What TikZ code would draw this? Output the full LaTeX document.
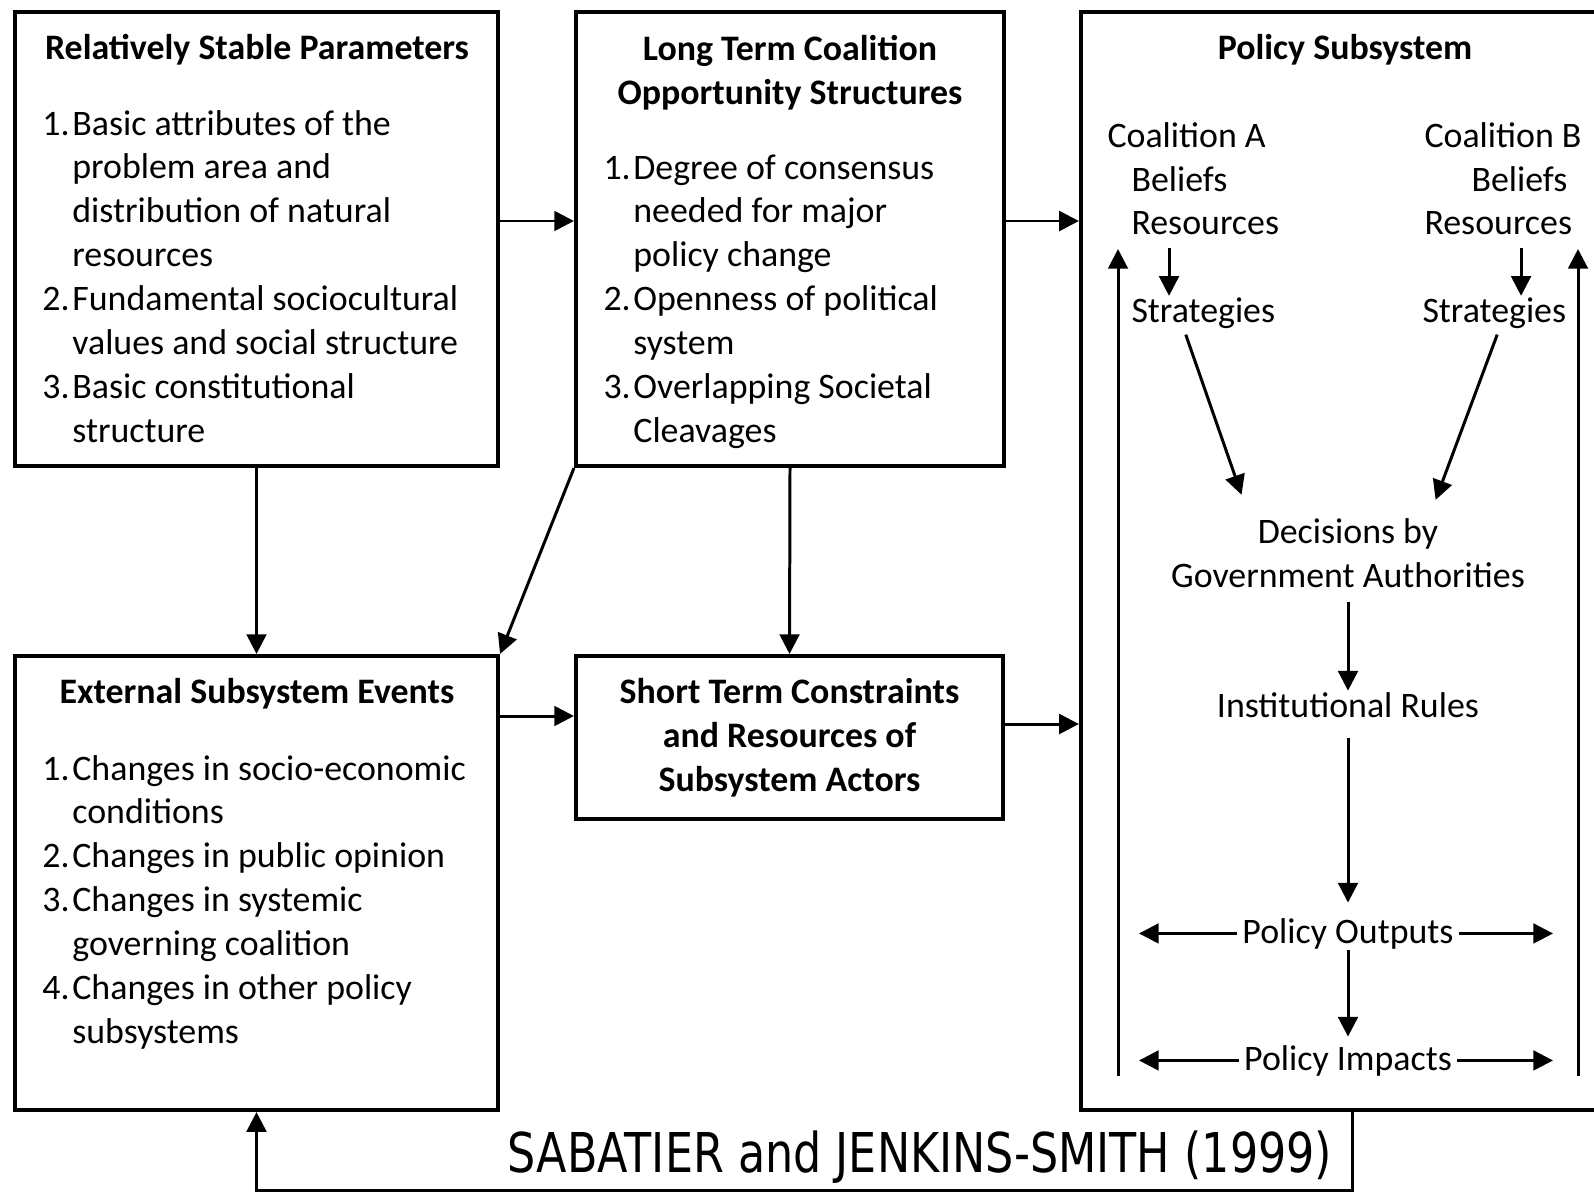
\documentclass[tikz,border=0pt]{standalone}
\usepackage{fontspec}
\setmainfont{Carlito}
\newfontfamily\capfont[FakeStretch=0.81]{DejaVu Sans}
\usetikzlibrary{arrows.meta}
\newcommand{\plist}[1]{\begin{tabular}[t]{@{}p{8.5pt}@{}l@{}}#1\end{tabular}}
\tikzset{
  box/.style={draw,line width=1.1pt,inner sep=0pt},
  txt/.style={inner sep=0pt,font=\fontsize{10.2}{12.5}\selectfont},
  ttl/.style={inner sep=0pt,font=\fontsize{10.2}{12.5}\selectfont\bfseries,align=center},
  lst/.style={txt,anchor=base west},
}

\begin{document}
\begin{tikzpicture}[x=0.01cm,y=-0.01cm,line width=0.85pt,>={Triangle[length=5.6pt,width=5.6pt]}]
\useasboundingbox (0,0) rectangle (1594,1193);

\node [box,minimum width=4.83cm,minimum height=4.54cm] (rsp) at (256.5,239) {};
\node [box,minimum width=4.28cm,minimum height=4.54cm] (ltc) at (790,239) {};
\node [box,minimum width=5.42cm,minimum height=10.98cm] (ps) at (1352,561) {};
\node [box,minimum width=4.83cm,minimum height=4.54cm] (ese) at (256.5,883) {};
\node [box,ttl,minimum width=4.27cm,minimum height=1.63cm] (stc) at (789.5,737.5) {Short Term Constraints\\and Resources of\\Subsystem Actors};

\node [ttl,anchor=base] (rspt) at (257,59) {Relatively Stable Parameters};
\node [lst] (rspl) at (41,135) {\plist{1.&Basic attributes of the\\ &problem area and\\ &distribution of natural\\ &resources\\2.&Fundamental sociocultural\\ &values and social structure\\3.&Basic constitutional\\ &structure}};

\node [ttl,anchor=north] (ltct) at (790,34) {Long Term Coalition\\Opportunity Structures};
\node [lst] (ltcl) at (602,179) {\plist{1.&Degree of consensus\\ &needed for major\\ &policy change\\2.&Openness of political\\ &system\\3.&Overlapping Societal\\ &Cleavages}};

\node [ttl,anchor=base] (eset) at (257,703) {External Subsystem Events};
\node [lst] (esel) at (41,780) {\plist{1.&Changes in socio-economic\\ &conditions\\2.&Changes in public opinion\\3.&Changes in systemic\\ &governing coalition\\4.&Changes in other policy\\ &subsystems}};

\node [ttl,anchor=base] (pst) at (1345,59) {Policy Subsystem};
\node [txt,anchor=base west] (coalA) at (1106,147) {Coalition A};
\node [txt,anchor=base west] (belA) at (1130,191) {Beliefs};
\node [txt,anchor=base west] (resA) at (1130,234) {Resources};
\node [txt,anchor=base west] (stratA) at (1130,322) {Strategies};
\node [txt,anchor=base west] (coalB) at (1423,147) {Coalition B};
\node [txt,anchor=base west] (belB) at (1470,191) {Beliefs};
\node [txt,anchor=base west] (resB) at (1423,234) {Resources};
\node [txt,anchor=base west] (stratB) at (1421,322) {Strategies};
\node [txt,align=center,anchor=north] (dec) at (1348,517) {Decisions by\\Government Authorities};
\node [txt,anchor=base] (inst) at (1348,717) {Institutional Rules};
\node [txt,anchor=base] (pout) at (1348,943) {Policy Outputs};
\node [txt,anchor=base] (pimp) at (1348,1070) {Policy Impacts};
\node [font=\capfont\fontsize{15.6}{18}\selectfont] (src) at (920,1157) {SABATIER and JENKINS-SMITH (1999)};

\coordinate (fb) at (0,1190);
\coordinate (lx) at (1139,0);
\coordinate (rx) at (1553,0);
\coordinate (sideA) at (1118,249);
\coordinate (sideB) at (1578,249);
\coordinate (sidebot) at (0,1076);

\draw [->] ([yshift=1.8mm]rsp.east) -- ([yshift=1.8mm]ltc.west);
\draw [->] ([yshift=1.8mm]ltc.east) -- ([yshift=1.8mm]ltc.east -| ps.west);
\draw [->] (rsp.south) -- (ese.north);
\draw [->] (ltc.south west) -- (ese.north east);
\draw [->] (ltc.south) -- (stc.north);
\draw [->] ([yshift=2.15mm]stc.west -| ese.east) -- ([yshift=2.15mm]stc.west);
\draw [->] ([yshift=1.35mm]stc.east) -- ([yshift=1.35mm]stc.east -| ps.west);
\draw [->] (ps.south) -- (ps.south |- fb) -| (ese.south);

\draw [->,shorten <=3.5pt] ([xshift=3.9mm]resA.south west) -- ([xshift=3.9mm]resA.south west |- stratA.north);
\draw [->,shorten <=3.5pt] ([xshift=9.8mm]resB.south west) -- ([xshift=9.8mm]resB.south west |- stratB.north);
\draw [->,shorten <=1.5pt,shorten >=6.7pt] ([xshift=5.4mm]stratA.south west) -- ([xshift=7.95mm]dec.north west);
\draw [->,shorten <=1.5pt,shorten >=5.2pt] ([xshift=7.8mm]stratB.south west) -- ([xshift=-9.7mm]dec.north east);
\draw [->,shorten <=3.7pt] (dec.south) -- (inst.north);
\draw [->,shorten <=5.5pt,shorten >=4pt] (inst.south) -- (pout.north);
\draw [->,shorten >=2pt] (pout.south) -- (pimp.north);
\draw [->,shorten <=1pt] (pout.west) -- (pout.west -| lx);
\draw [->,shorten <=1pt] (pout.east) -- (pout.east -| rx);
\draw [->,shorten <=1pt] (pimp.west) -- (pimp.west -| lx);
\draw [->,shorten <=1pt] (pimp.east) -- (pimp.east -| rx);
\draw [->] (sideA |- sidebot) -- (sideA);
\draw [->] (sideB |- sidebot) -- (sideB);

\end{tikzpicture}
\end{document}
